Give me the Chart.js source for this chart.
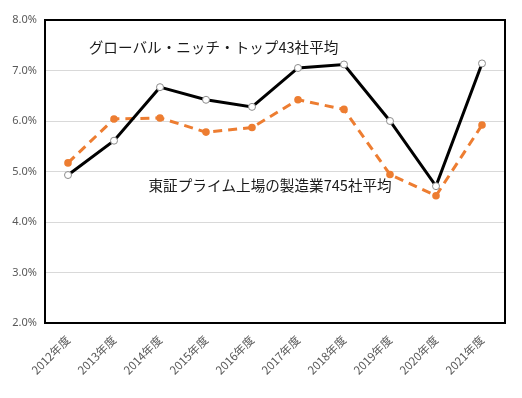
<!DOCTYPE html>
<html>
<head>
<meta charset="utf-8">
<script src="https://cdn.jsdelivr.net/npm/chart.js@4"></script>
<style>
  html, body { margin: 0; padding: 0; background: #fff; }
  #wrap { width: 522px; height: 398px; }
</style>
</head>
<body>
<div id="wrap"><canvas id="myChart"></canvas></div>
<script>
const years = ['2012年度', '2013年度', '2014年度', '2015年度', '2016年度', '2017年度', '2018年度', '2019年度', '2020年度', '2021年度'];
const gntValues = [4.93, 5.61, 6.67, 6.42, 6.28, 7.05, 7.12, 6.0, 4.71, 7.14];
const primeValues = [5.17, 6.04, 6.06, 5.78, 5.87, 6.42, 6.23, 4.94, 4.52, 5.92];
const gntLabel = 'グローバル・ニッチ・トップ43社平均';
const primeLabel = '東証プライム上場の製造業745社平均';

const jpFont = '"Noto Sans CJK JP", "Noto Sans", sans-serif';

// frame around plot area + in-chart series labels
const frameAndLabels = {
  id: 'frameAndLabels',
  afterDatasetsDraw(chart) {
    const { ctx, chartArea: { left, top, right, bottom }, scales: { x, y } } = chart;
    ctx.save();
    ctx.strokeStyle = '#000';
    ctx.lineWidth = 2;
    ctx.strokeRect(left, top, right - left, bottom - top);

    ctx.fillStyle = '#1a1a1a';
    ctx.font = '14.6px ' + jpFont;
    ctx.textBaseline = 'middle';
    ctx.textAlign = 'left';
    ctx.fillText(gntLabel, x.getPixelForValue(0.45), y.getPixelForValue(7.45));
    ctx.fillText(primeLabel, x.getPixelForValue(1.75), y.getPixelForValue(4.72));
    ctx.restore();
  },
};

const config = {
  type: 'line',
  data: {
    labels: years,
    datasets: [
      {
        label: gntLabel,
        data: gntValues,
        borderColor: '#000000',
        borderWidth: 3,
        pointBackgroundColor: '#ffffff',
        pointBorderColor: '#8c8c8c',
        pointBorderWidth: 1,
        pointRadius: 3.5,
        tension: 0,
      },
      {
        label: primeLabel,
        data: primeValues,
        borderColor: '#ED7D31',
        borderWidth: 3,
        borderDash: [9, 6],
        pointBackgroundColor: '#ED7D31',
        pointBorderColor: '#ED7D31',
        pointBorderWidth: 0,
        pointRadius: 3.8,
        tension: 0,
      },
    ],
  },
  options: {
    responsive: true,
    maintainAspectRatio: false,
    animation: false,
    layout: { padding: { top: 20, right: 17, left: 0, bottom: 0 } },
    plugins: {
      legend: { display: false },
      tooltip: { enabled: false },
    },
    scales: {
      x: {
        offset: true,
        grid: { display: false },
        border: { display: false },
        ticks: {
          minRotation: 45,
          maxRotation: 45,
          color: '#595959',
          font: { family: jpFont, size: 11.5 },
          padding: 2,
        },
        afterFit(scale) { scale.height = 75; },
      },
      y: {
        min: 2,
        max: 8,
        grid: { color: '#d9d9d9', lineWidth: 1, drawTicks: false },
        border: { display: false },
        ticks: {
          stepSize: 1,
          color: '#595959',
          font: { family: '"Noto Sans", sans-serif', size: 11 },
          padding: 8,
          callback: (v) => v.toFixed(1) + '%',
        },
        afterFit(scale) { scale.width = 45; },
      },
    },
  },
  plugins: [frameAndLabels],
};

const myChart = new Chart(document.getElementById('myChart'), config);
</script>
</body>
</html>
